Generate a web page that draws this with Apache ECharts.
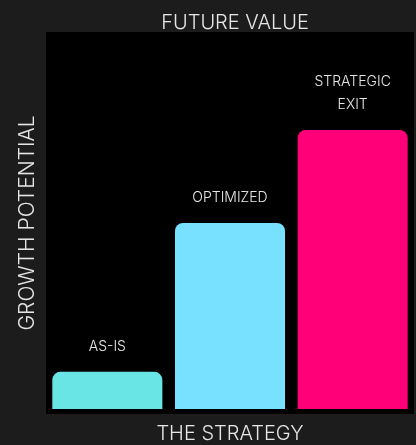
<!DOCTYPE html>
<html>
<head>
<meta charset="utf-8">
<script src="https://cdn.jsdelivr.net/npm/echarts@6/dist/echarts.min.js"></script>
<style>
html,body{margin:0;padding:0;background:#1c1c1c;}
#c{width:416px;height:445px;}
</style>
</head>
<body>
<div id="c"></div>
<script>
const categories = ["AS-IS", "OPTIMIZED", "STRATEGIC EXIT"];
const barLabels = ["AS-IS", "OPTIMIZED", "STRATEGIC\nEXIT"];
const values = [10, 50, 75];
const colors = ["#69e5e5", "#78e1ff", "#ff0078"];
const titleText = "FUTURE VALUE";
const xName = "THE STRATEGY";
const yName = "GROWTH POTENTIAL";

const chart = echarts.init(document.getElementById('c'), null, {renderer: 'canvas'});
const font = 'Inter, "Noto Sans", sans-serif';
chart.setOption({
  backgroundColor: '#1c1c1c',
  animation: false,
  title: {
    text: titleText,
    left: 230, top: 8, textAlign: 'center',
    textStyle: {color: '#e6e6e6', fontSize: 20, fontWeight: 300, fontFamily: font}
  },
  graphic: [{
    type: 'rect', z: -10, silent: true,
    shape: {x: 46, y: 32, width: 368, height: 382},
    style: {fill: '#000000'}
  }],
  grid: {left: 46, right: 2, top: 37, bottom: 36, outerBoundsMode: 'none', containLabel: false},
  xAxis: {
    type: 'category',
    data: categories,
    axisLine: {show: false}, axisTick: {show: false}, axisLabel: {show: false},
    name: xName, nameLocation: 'middle', nameGap: 15,
    nameTextStyle: {color: '#e6e6e6', fontSize: 20, fontWeight: 300, fontFamily: font}
  },
  yAxis: {
    type: 'value', min: 0, max: 100,
    splitLine: {show: false}, axisLine: {show: false}, axisTick: {show: false}, axisLabel: {show: false},
    name: yName, nameLocation: 'middle', nameGap: 8, nameRotate: 90,
    nameTextStyle: {color: '#e6e6e6', fontSize: 21, fontWeight: 300, fontFamily: font}
  },
  series: [{
    type: 'bar',
    barCategoryGap: '10.3%',
    data: values.map((v, i) => ({value: v, itemStyle: {color: colors[i]}})),
    itemStyle: {borderRadius: [8, 8, 0, 0]},
    label: {
      show: true, position: 'top', distance: 14,
      formatter: p => barLabels[p.dataIndex],
      color: '#e6e6e6', fontSize: 14, fontWeight: 300, lineHeight: 23, fontFamily: font
    }
  }]
});
</script>
</body>
</html>
